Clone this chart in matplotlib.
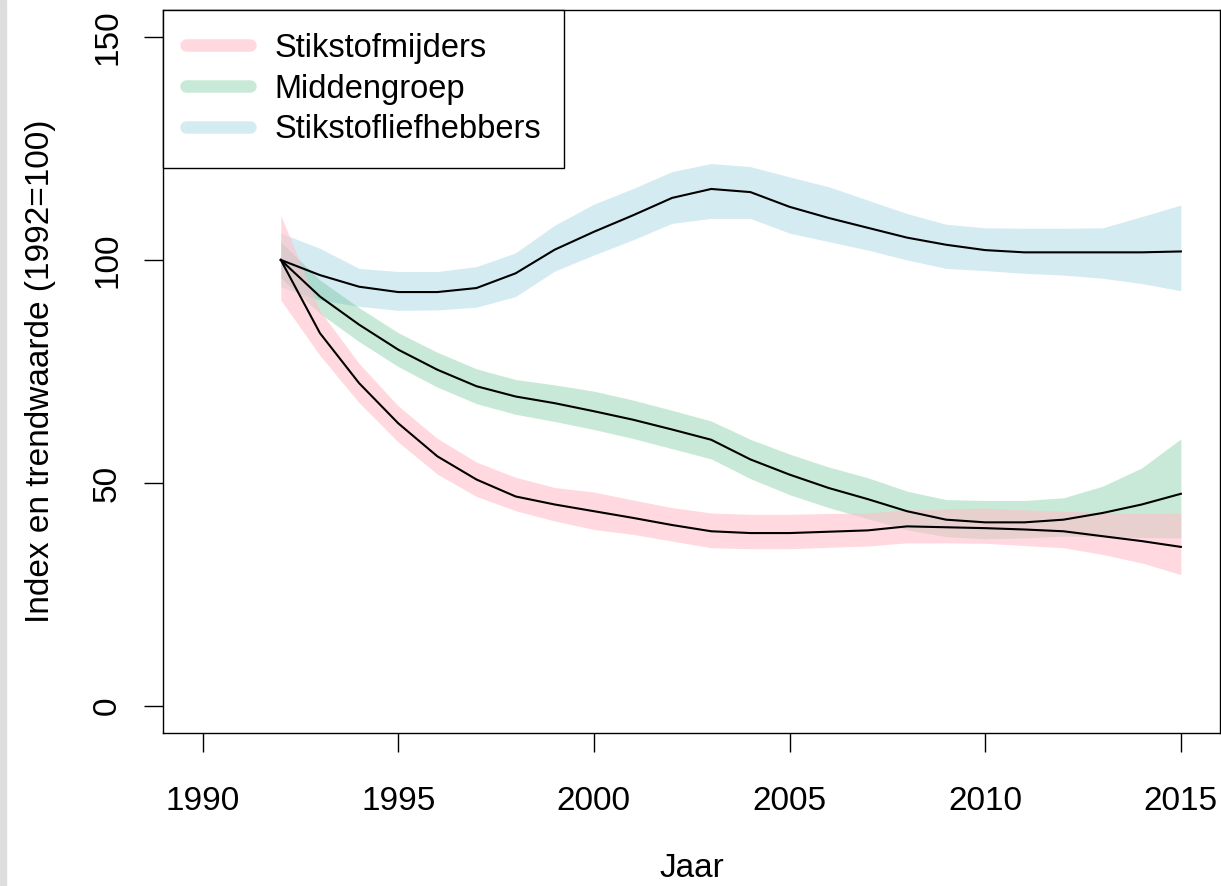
import numpy as np
import matplotlib
matplotlib.use("Agg")
import matplotlib.pyplot as plt
from matplotlib.patches import Rectangle

plt.rcParams['font.family'] = ['Liberation Sans', 'DejaVu Sans']

# Data
# -----------------------------------------------------------
jaren = list(range(1992, 2016))

# Stikstofmijders
mijders = [100, 83.6, 72.4, 63.4, 56.0, 50.8, 47.0, 45.2, 43.7, 42.2, 40.6, 39.2,
           38.8, 38.8, 39.1, 39.4, 40.3, 40.1, 39.9, 39.6, 39.2, 38.1, 37.0, 35.7]
mijders_hi = [110, 88.6, 76.8, 67.3, 60.0, 54.7, 51.3, 49.0, 48.0, 46.2, 44.5, 43.3,
              43.0, 43.0, 43.2, 43.3, 44.0, 44.2, 44.4, 44.0, 43.7, 43.4, 43.2, 43.3]
mijders_lo = [91, 78.6, 68.0, 59.2, 52.0, 47.0, 43.8, 41.5, 39.6, 38.5, 37.0, 35.5,
              35.3, 35.3, 35.6, 35.9, 36.6, 36.6, 36.5, 36.0, 35.5, 34.0, 32.1, 29.5]

# Middengroep
midden = [100, 91.8, 85.5, 79.9, 75.4, 71.7, 69.4, 67.9, 66.1, 64.2, 62.0, 59.7,
          55.3, 51.9, 48.9, 46.4, 43.7, 41.8, 41.2, 41.2, 41.8, 43.3, 45.2, 47.6]
midden_hi = [104, 95.5, 89.3, 83.7, 79.3, 75.6, 73.2, 72.0, 70.6, 68.6, 66.3, 63.9,
             59.8, 56.5, 53.6, 51.2, 48.2, 46.3, 46.1, 46.1, 46.7, 49.3, 53.4, 59.9]
midden_lo = [96, 88.0, 81.7, 76.1, 71.5, 67.8, 65.4, 63.8, 62.0, 60.0, 57.7, 55.4,
             51.0, 47.4, 44.5, 42.0, 39.5, 38.0, 37.5, 37.7, 38.1, 38.0, 37.8, 37.7]

# Stikstofliefhebbers
liefh = [100, 96.6, 94.0, 92.8, 92.8, 93.7, 97.0, 102.3, 106.3, 110.0, 113.9, 115.9,
         115.2, 111.9, 109.4, 107.2, 105.0, 103.4, 102.2, 101.7, 101.7, 101.7, 101.7, 101.9]
liefh_hi = [106, 102.6, 98.1, 97.4, 97.4, 98.5, 101.6, 107.8, 112.5, 116.0, 119.8, 121.6,
            120.9, 118.6, 116.4, 113.4, 110.4, 108.0, 107.2, 107.1, 107.1, 107.2, 109.7, 112.3]
liefh_lo = [94, 91.0, 89.6, 88.7, 88.8, 89.4, 91.8, 97.5, 101.1, 104.5, 108.2, 109.3,
            109.3, 106.0, 104.1, 102.2, 100.0, 98.1, 97.6, 97.0, 96.6, 95.9, 94.7, 93.1]

groepen = ["Stikstofmijders", "Middengroep", "Stikstofliefhebbers"]
kleuren = [(1.0, 0.753, 0.796, 0.6), (0.235, 0.702, 0.443, 0.28), (0.678, 0.847, 0.902, 0.5)]

# Plot
# -----------------------------------------------------------
fig = plt.figure(figsize=(12.21, 8.86), dpi=100)
ax = fig.add_axes([163.4 / 1221, 1 - 733 / 886, (1220 - 163.4) / 1221, (733 - 10) / 886])

# blue and green first, pink on top (as in the original)
ax.fill_between(jaren, liefh_lo, liefh_hi, color=kleuren[2], linewidth=0)
ax.plot(jaren, liefh, color='black', lw=1.5)
ax.fill_between(jaren, midden_lo, midden_hi, color=kleuren[1], linewidth=0)
ax.plot(jaren, midden, color='black', lw=1.5)
ax.fill_between(jaren, mijders_lo, mijders_hi, color=kleuren[0], linewidth=0)
ax.plot(jaren, mijders, color='black', lw=1.5)

ax.set_xlim(1989, 2016)
ax.set_ylim(-6, 156)
ax.set_xticks([1990, 1995, 2000, 2005, 2010, 2015])
ax.set_yticks([0, 50, 100, 150])
ax.tick_params(direction='out', length=14, width=1, labelsize=24)
ax.tick_params(axis='x', pad=24)
ax.tick_params(axis='y', pad=15)
plt.setp(ax.get_yticklabels(), rotation=90, va='center')
for s in ax.spines.values():
    s.set_linewidth(1)

ax.set_xlabel('Jaar', fontsize=24, labelpad=26)
ax.set_ylabel('Index en trendwaarde (1992=100)', fontsize=24, labelpad=26)

handles = [plt.Line2D([], [], color=c, lw=9, solid_capstyle='round') for c in kleuren]
leg = ax.legend(handles, groepen, loc='upper left', bbox_to_anchor=(0, 1),
                borderaxespad=0, fontsize=23.5, fancybox=False, framealpha=1,
                edgecolor='black', handlelength=1.95, handletextpad=0.75,
                labelspacing=0.3, borderpad=0.7)
leg.get_frame().set_linewidth(1)

# grey strip at left edge of the screenshot
fig.patches.append(Rectangle((0, 0), 6 / 1221, 1, transform=fig.transFigure,
                             color='#dddddd', zorder=-1))

plt.savefig('out.png', dpi=100)
